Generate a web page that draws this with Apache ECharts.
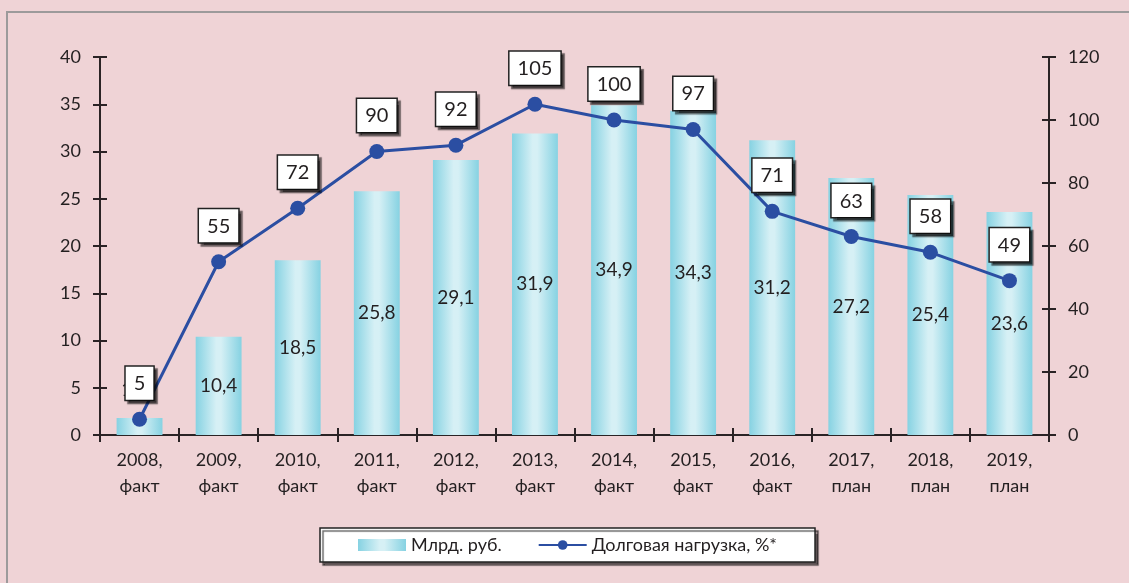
<!DOCTYPE html>
<html><head><meta charset="utf-8">
<script src="https://cdn.jsdelivr.net/npm/echarts@6/dist/echarts.min.js"></script>
<style>html,body{margin:0;padding:0;background:#efd3d6;}#c{width:1129px;height:583px;}</style>
</head><body><div id="c"></div>
<script>
const categories = ['2008,\nфакт','2009,\nфакт','2010,\nфакт','2011,\nфакт','2012,\nфакт','2013,\nфакт','2014,\nфакт','2015,\nфакт','2016,\nфакт','2017,\nплан','2018,\nплан','2019,\nплан'];
const barValues = [1.8, 10.4, 18.5, 25.8, 29.1, 31.9, 34.9, 34.3, 31.2, 27.2, 25.4, 23.6];
const lineValues = [5, 55, 72, 90, 92, 105, 100, 97, 71, 63, 58, 49];
const leftTicks = [0, 5, 10, 15, 20, 25, 30, 35, 40];
const rightTicks = [0, 20, 40, 60, 80, 100, 120];
const barName = 'Млрд. руб.';
const lineName = 'Долговая нагрузка, %*';

const FONT = 'Lato, "Open Sans", "Noto Sans", sans-serif';
const TXT = '#231f20';
const AX = '#2a2325';
const barGrad = new echarts.graphic.LinearGradient(0,0,1,0,[
  {offset:0,color:'#86d2e2'},{offset:0.45,color:'#d6f0f5'},{offset:0.55,color:'#d6f0f5'},{offset:1,color:'#86d2e2'}]);

const chart = echarts.init(document.getElementById('c'));
const axLine = {show:true, lineStyle:{color:AX, width:2}};

const barData = barValues.map((v,i)=> i===0 ? {value:v, label:{position:'top', offset:[-5,-14]}} : v);

chart.setOption({
  backgroundColor:'#efd3d6',
  animation:false,
  textStyle:{fontFamily:FONT},
  graphic:[{type:'rect', shape:{x:7,y:12,width:1140,height:600}, style:{fill:'none', stroke:'#9c9a9b', lineWidth:2}, z:-1}],
  grid:{left:100, right:80, top:57, bottom:148},
  legend:{
    bottom:21, left:320,
    itemGap:36,
    padding:[8,38,8,38],
    backgroundColor:'#fff', borderColor:'#222', borderWidth:1.5,
    shadowColor:'rgba(0,0,0,0.6)', shadowOffsetX:3, shadowOffsetY:3, shadowBlur:1,
    itemWidth:48, itemHeight:12,
    textStyle:{fontFamily:FONT, fontSize:18, color:TXT},
    data:[{name:barName, icon:'rect'}, {name:lineName}]
  },
  xAxis:[{
    type:'category', data:categories,
    axisLine:axLine,
    axisTick:{show:true, length:7, lineStyle:{color:AX, width:2}},
    axisLabel:{fontSize:18, color:TXT, lineHeight:26, margin:12, fontFamily:FONT}
  },{
    type:'category', data:categories, position:'bottom',
    axisLine:{show:false},
    axisTick:{show:true, inside:true, length:7, lineStyle:{color:AX, width:2}},
    axisLabel:{show:false}
  }],
  yAxis:[{
    type:'value', min:0, max:40, interval:5,
    axisLine:axLine,
    axisTick:{show:true, length:7, lineStyle:{color:AX, width:2}},
    splitLine:{show:false},
    axisLabel:{fontSize:18, color:TXT, margin:19, fontFamily:FONT}
  },{
    type:'value', min:0, max:120, interval:20, position:'right',
    axisLine:axLine,
    axisTick:{show:true, length:7, lineStyle:{color:AX, width:2}},
    splitLine:{show:false},
    axisLabel:{fontSize:18, color:TXT, margin:19, fontFamily:FONT}
  },{
    type:'value', min:0, max:40, interval:5, position:'left',
    axisLine:{show:false},
    axisTick:{show:true, inside:true, length:7, lineStyle:{color:AX, width:2}},
    splitLine:{show:false}, axisLabel:{show:false}
  },{
    type:'value', min:0, max:120, interval:20, position:'right',
    axisLine:{show:false},
    axisTick:{show:true, inside:true, length:7, lineStyle:{color:AX, width:2}},
    splitLine:{show:false}, axisLabel:{show:false}
  }],
  series:[{
    name:barName, type:'bar', data:barData, barWidth:'58%',
    itemStyle:{color:barGrad},
    label:{show:true, position:'inside', fontSize:19, color:TXT, fontFamily:FONT,
      formatter:p=>String(p.value).replace('.',',')},
    z:2
  },{
    name:lineName, type:'line', yAxisIndex:1, data:lineValues,
    color:'#2b4ea2',
    lineStyle:{color:'#2b4ea2', width:3},
    itemStyle:{color:'#2b4ea2'},
    symbol:'circle', symbolSize:15,
    label:{show:true, position:'top', distance:12, fontSize:20, color:TXT, fontFamily:FONT,
      backgroundColor:'#fff', borderColor:'#222', borderWidth:1.5, padding:[7,8,6,8],
      shadowColor:'rgba(0,0,0,0.55)', shadowOffsetX:3, shadowOffsetY:3, shadowBlur:1},
    z:5
  }]
});
</script></body></html>
